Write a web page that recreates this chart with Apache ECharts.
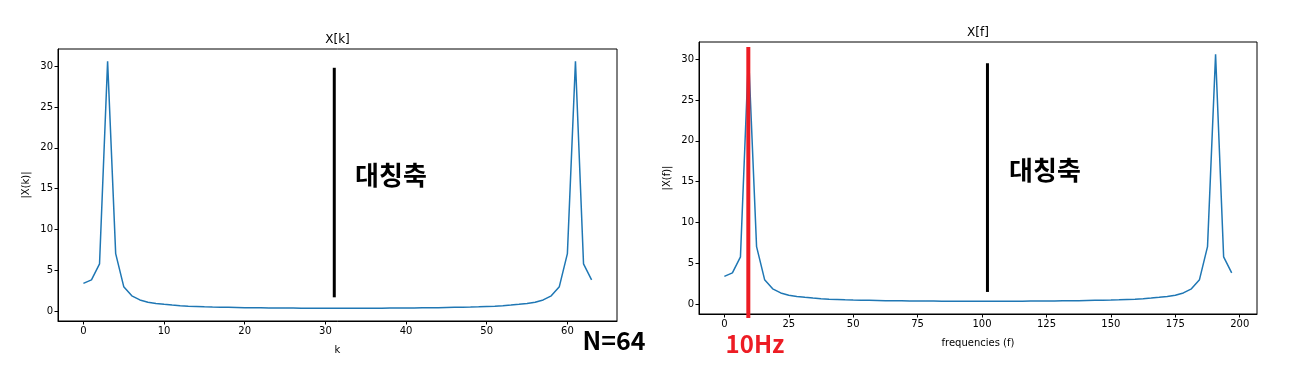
<!DOCTYPE html>
<html>
<head>
<meta charset="utf-8">
<script src="https://cdn.jsdelivr.net/npm/echarts@6/dist/echarts.min.js"></script>
<style>html,body{margin:0;padding:0;background:#fff}#c{width:1299px;height:370px}</style>
</head>
<body>
<div id="c"></div>
<script>
// bin index k
const kValues = [0,1,2,3,4,5,6,7,8,9,10,11,12,13,14,15,16,17,18,19,20,21,22,23,24,25,26,27,28,29,30,31,32,33,34,35,36,37,38,39,40,41,42,43,44,45,46,47,48,49,50,51,52,53,54,55,56,57,58,59,60,61,62,63];
// frequencies (Hz)
const freqValues = [0,3.125,6.25,9.375,12.5,15.625,18.75,21.875,25,28.125,31.25,34.375,37.5,40.625,43.75,46.875,50,53.125,56.25,59.375,62.5,65.625,68.75,71.875,75,78.125,81.25,84.375,87.5,90.625,93.75,96.875,100,103.125,106.25,109.375,112.5,115.625,118.75,121.875,125,128.125,131.25,134.375,137.5,140.625,143.75,146.875,150,153.125,156.25,159.375,162.5,165.625,168.75,171.875,175,178.125,181.25,184.375,187.5,190.625,193.75,196.875];
// |X| magnitudes
const magnitudes = [3.4,3.84,5.8,30.6,7.05,3.0,1.88,1.38,1.1,0.95,
  0.84,0.75,0.68,0.62,0.58,0.54,0.51,0.49,0.47,0.45,
  0.43,0.42,0.41,0.40,0.39,0.38,0.38,0.37,0.37,0.37,
  0.36,0.36,0.36,0.36,0.36,0.37,0.37,0.37,0.38,0.38,
  0.39,0.40,0.41,0.42,0.43,0.45,0.47,0.49,0.51,0.54,
  0.58,0.62,0.68,0.75,0.84,0.95,1.1,1.38,1.88,3.0,
  7.05,30.6,5.8,3.84];
const kTicks = [0,10,20,30,40,50,60];
const fTicks = [0,25,50,75,100,125,150,175,200];
const yTicks = [0,5,10,15,20,25,30];
// annotation lines [x, yStart, yEnd]
const symAxisK = [31.1, 1.7, 29.8];
const symAxisF = [102.1, 1.5, 29.5];
const markerF = [9.3, 31.5, -1.7];

const font = 'DejaVu Sans';
const chart = echarts.init(document.getElementById('c'));

function axisX(idx, min, max, ticks, name) {
  return {
    type: 'value', gridIndex: idx, min: min, max: max,
    name: name, nameLocation: 'middle', nameGap: 24,
    nameTextStyle: {fontFamily: font, fontSize: 10, color: '#000'},
    axisLine: {show: true, onZero: false, lineStyle: {color: '#000', width: 1}},
    axisTick: {show: true, customValues: ticks, length: 3.5, lineStyle: {color: '#000'}},
    axisLabel: {customValues: ticks, fontFamily: font, fontSize: 10, color: '#000', margin: 5},
    splitLine: {show: false}
  };
}
function axisY(idx, name) {
  return {
    type: 'value', gridIndex: idx, min: -1.2, max: 32.1,
    name: name, nameLocation: 'middle', nameGap: 27,
    nameTextStyle: {fontFamily: font, fontSize: 10, color: '#000'},
    axisLine: {show: true, onZero: false, lineStyle: {color: '#000', width: 1}},
    axisTick: {show: true, customValues: yTicks, length: 3.5, lineStyle: {color: '#000'}},
    axisLabel: {customValues: yTicks, fontFamily: font, fontSize: 10, color: '#000', margin: 5},
    splitLine: {show: false}
  };
}

chart.setOption({
  animation: false,
  backgroundColor: '#fff',
  grid: [
    {left: 58, top: 49, width: 559, height: 272, show: true, borderColor: '#000', borderWidth: 1, backgroundColor: 'transparent'},
    {left: 699, top: 42, width: 558, height: 272, show: true, borderColor: '#000', borderWidth: 1, backgroundColor: 'transparent'}
  ],
  xAxis: [axisX(0, -3.15, 66.15, kTicks, 'k'), axisX(1, -9.84, 206.7, fTicks, 'frequencies (f)')],
  yAxis: [axisY(0, '|X(k)|'), axisY(1, '|X(f)|')],
  series: [
    {type: 'line', xAxisIndex: 0, yAxisIndex: 0, showSymbol: false, symbol: 'none',
     lineStyle: {color: '#1f77b4', width: 1.5}, data: kValues.map((k, i) => [k, magnitudes[i]])},
    {type: 'line', xAxisIndex: 1, yAxisIndex: 1, showSymbol: false, symbol: 'none',
     lineStyle: {color: '#1f77b4', width: 1.5}, data: freqValues.map((f, i) => [f, magnitudes[i]])},
    {type: 'line', xAxisIndex: 0, yAxisIndex: 0, symbol: 'none', clip: false,
     lineStyle: {color: '#000', width: 3}, data: [[symAxisK[0], symAxisK[1]], [symAxisK[0], symAxisK[2]]]},
    {type: 'line', xAxisIndex: 1, yAxisIndex: 1, symbol: 'none', clip: false,
     lineStyle: {color: '#000', width: 3}, data: [[symAxisF[0], symAxisF[1]], [symAxisF[0], symAxisF[2]]]},
    {type: 'line', xAxisIndex: 1, yAxisIndex: 1, symbol: 'none', clip: false, z: 5,
     lineStyle: {color: '#ed1c24', width: 4}, data: [[markerF[0], markerF[1]], [markerF[0], markerF[2]]]}
  ],
  graphic: [
    {type: 'text', x: 337.5, y: 40, style: {text: 'X[k]', fontFamily: font, fontSize: 12, fill: '#000', align: 'center', verticalAlign: 'middle'}},
    {type: 'text', x: 978, y: 33, style: {text: 'X[f]', fontFamily: font, fontSize: 12, fill: '#000', align: 'center', verticalAlign: 'middle'}},
    {type: 'text', x: 391, y: 175, style: {text: '대칭축', fontFamily: 'Noto Sans CJK KR', fontWeight: 'bold', fontSize: 26, fill: '#000', align: 'center', verticalAlign: 'middle'}},
    {type: 'text', x: 1045, y: 170, style: {text: '대칭축', fontFamily: 'Noto Sans CJK KR', fontWeight: 'bold', fontSize: 26, fill: '#000', align: 'center', verticalAlign: 'middle'}},
    {type: 'text', x: 614, y: 340, style: {text: 'N=64', fontFamily: 'Noto Sans CJK KR', fontWeight: 'bold', fontSize: 25, fill: '#000', align: 'center', verticalAlign: 'middle'}},
    {type: 'text', x: 755, y: 344, style: {text: '10Hz', fontFamily: 'Noto Sans CJK KR', fontWeight: 'bold', fontSize: 24, fill: '#ed1c24', align: 'center', verticalAlign: 'middle'}}
  ]
});
</script>
</body>
</html>
